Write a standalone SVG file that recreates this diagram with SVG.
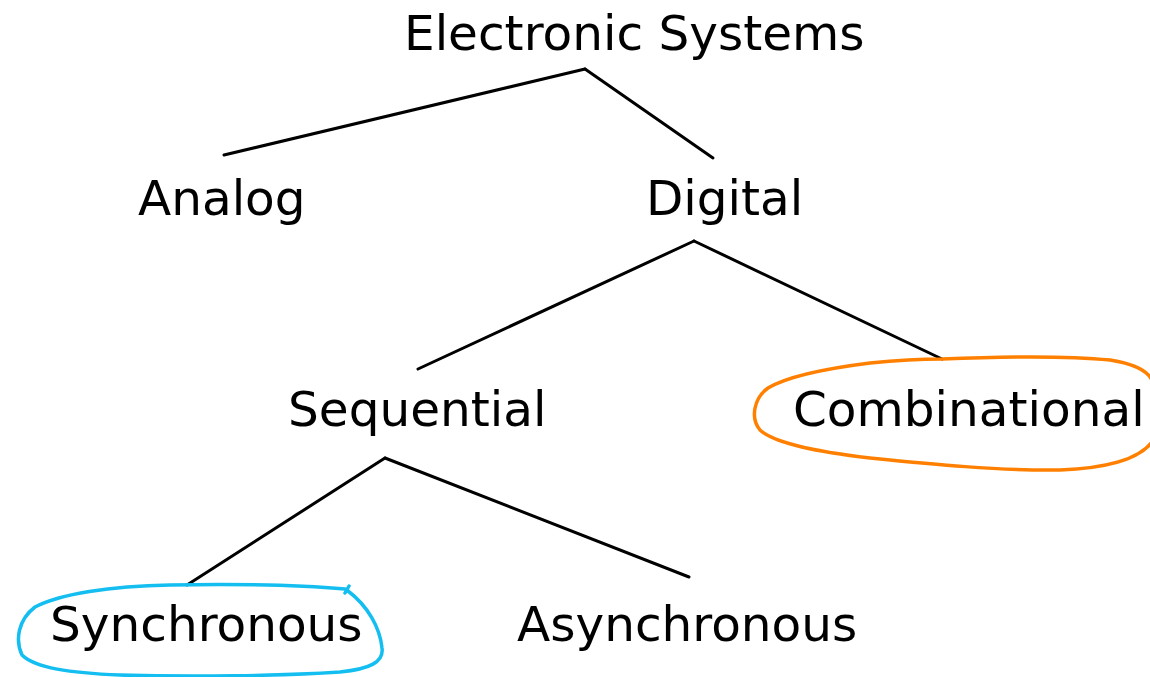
<svg xmlns="http://www.w3.org/2000/svg" width="1150" height="677" viewBox="0 0 1150 677">
<style>
.t{font-family:"DejaVu Sans",sans-serif;font-size:48.5px;fill:#000}
.c{stroke:#000;stroke-width:3;fill:none;stroke-linecap:round}
.hl{fill:none;stroke-width:3.5;stroke-linecap:round;stroke-linejoin:round}
</style>
<rect width="1150" height="677" fill="#fff"/>
<g id="connectors">
<path class="c" d="M585,69 L224,155"/>
<path class="c" d="M585,69 L713,158"/>
<path class="c" d="M694,241 L418,369"/>
<path class="c" d="M694,241 L942,359"/>
<path class="c" d="M385,458 L187,585"/>
<path class="c" d="M385,458 L689,577"/>
</g>
<g id="n-electronic"><text class="t" x="404" y="50">Electronic Systems</text></g>
<g id="n-analog"><text class="t" x="138" y="215">Analog</text></g>
<g id="n-digital"><text class="t" x="646" y="215">Digital</text></g>
<g id="n-sequential"><text class="t" x="288" y="426">Sequential</text></g>
<g id="n-combinational">
<path class="hl" stroke="#ff8000" d="M942,359 C990,357 1060,355 1110,360 C1135,364 1148,372 1152,380 M1152,442 C1140,458 1110,468 1060,470 C1000,471 930,464 870,458 C820,452 775,444 760,430 C750,418 754,398 768,388 C790,375 830,368 870,363 C900,360 925,359 942,359"/>
<text class="t" x="793" y="426">Combinational</text>
</g>
<g id="n-synchronous">
<path class="hl" stroke="#14bef0" d="M345,589 C300,585 230,584 170,585 C110,586 60,594 35,607 C18,620 15,640 22,655 C35,668 70,673 120,675 C190,677 280,676 340,672 C370,669 384,662 382,648 C380,628 368,606 348,591 M349,586 L345,593"/>
<text class="t" x="50" y="641">Synchronous</text>
</g>
<g id="n-asynchronous"><text class="t" x="517" y="641">Asynchronous</text></g>
</svg>
